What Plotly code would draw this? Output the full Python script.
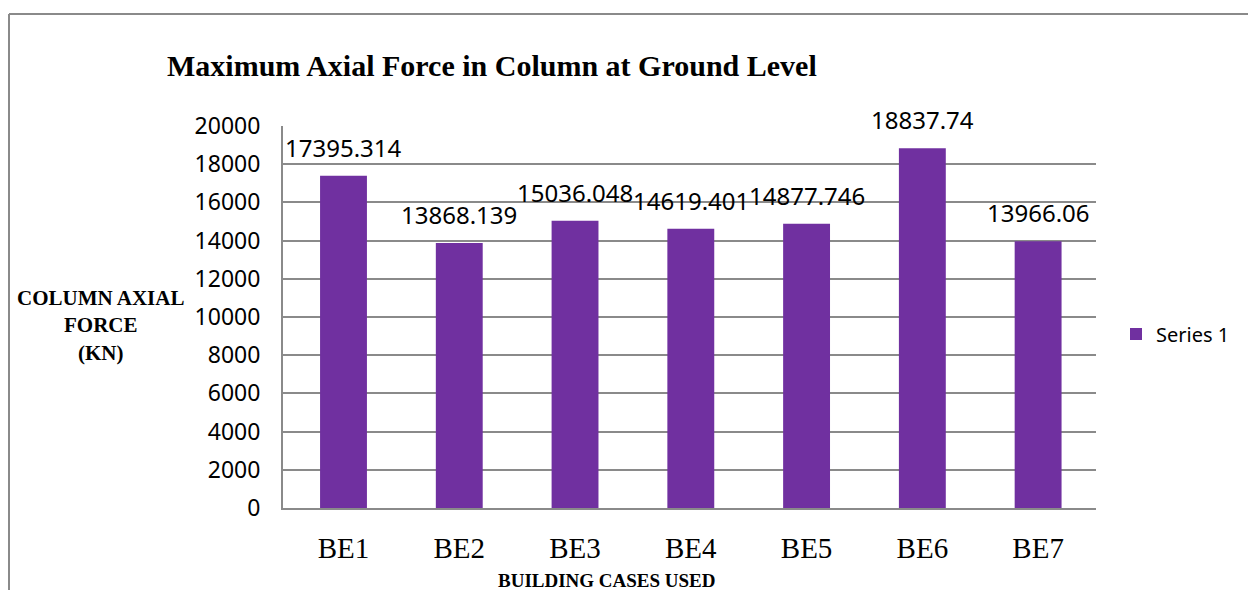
import plotly.graph_objects as go

# data
cases = ["BE1", "BE2", "BE3", "BE4", "BE5", "BE6", "BE7"]
axial_force = [17395.314, 13868.139, 15036.048, 14619.401, 14877.746, 18837.74, 13966.06]
force_labels = ["17395.314", "13868.139", "15036.048", "14619.401", "14877.746", "18837.74", "13966.06"]
y_ticks = [0, 2000, 4000, 6000, 8000, 10000, 12000, 14000, 16000, 18000, 20000]

PURPLE = "#7030A0"
GRID = "#8a8a8a"
SANS = "Noto Sans, Open Sans, sans-serif"
SERIF = "Liberation Serif, Times New Roman, serif"

# plot-area in pixels: x 283..1096, y 126..508
W, H = 1248, 590
L, R, T, B = 283, W - 1096, 126, H - 508
PW, PH = W - L - R, H - T - B


def px_x(p):
    return (p - L) / PW


def px_y(p):
    return (H - B - p) / PH


fig = go.Figure()
fig.add_trace(go.Bar(
    x=cases, y=axial_force, name="Series 1",
    marker=dict(color=PURPLE, line=dict(width=0)),
))

# value labels above bars
for c, v, t in zip(cases, axial_force, force_labels):
    fig.add_annotation(x=c, y=v, text=t, showarrow=False, yanchor="bottom",
                       yshift=10, font=dict(family=SANS, size=24, color="#000"))

# title
fig.add_annotation(xref="paper", yref="paper", x=px_x(165), y=px_y(65),
                   xanchor="left", yanchor="middle", showarrow=False,
                   text="<b>Maximum Axial Force in Column at Ground Level</b>",
                   font=dict(family=SERIF, size=30, color="#000"))
# y axis title
fig.add_annotation(xref="paper", yref="paper", x=px_x(100), y=px_y(325),
                   xanchor="center", yanchor="middle", showarrow=False, align="center",
                   text="<b>COLUMN AXIAL<br>FORCE<br>(KN)</b>",
                   font=dict(family=SERIF, size=21, color="#000"))
# x axis title
fig.add_annotation(xref="paper", yref="paper", x=px_x(607), y=px_y(580),
                   xanchor="center", yanchor="middle", showarrow=False,
                   text="<b>BUILDING CASES USED</b>",
                   font=dict(family=SERIF, size=19, color="#000"))

# outer chart border (left and top edges visible)
fig.add_shape(type="line", xref="paper", yref="paper",
              x0=px_x(9), y0=px_y(600), x1=px_x(9), y1=px_y(14),
              line=dict(color="#8a8a8a", width=2))
fig.add_shape(type="line", xref="paper", yref="paper",
              x0=px_x(9), y0=px_y(14), x1=px_x(1260), y1=px_y(14),
              line=dict(color="#8a8a8a", width=2))

fig.update_layout(
    width=W, height=H, autosize=False,
    margin=dict(l=L, r=R, t=T, b=B),
    paper_bgcolor="white", plot_bgcolor="white",
    bargap=0.595,
    showlegend=True,
    legend=dict(x=px_x(1116), y=px_y(334), xanchor="left", yanchor="middle",
                font=dict(family=SANS, size=20, color="#000"),
                itemwidth=30, bgcolor="rgba(0,0,0,0)"),
    xaxis=dict(
        showgrid=False, showline=True, linecolor=GRID, linewidth=2,
        ticks="outside", ticklen=13, tickcolor="rgba(0,0,0,0)",
        tickfont=dict(family=SERIF, size=29, color="#000"),
    ),
    yaxis=dict(
        range=[0, 20000], tickvals=y_ticks, tickformat="d",
        showgrid=True, gridcolor=GRID, gridwidth=2,
        showline=True, linecolor=GRID, linewidth=2,
        zeroline=False,
        ticks="outside", ticklen=16, tickcolor="rgba(0,0,0,0)",
        tickfont=dict(family=SANS, size=23, color="#000"),
    ),
)

# drop the default page margin / scrollbars so the figure fills the window
fig.write_html(
    "out.html",
    config={"responsive": False, "displayModeBar": False},
    post_script="document.body.style.margin='0';document.body.style.overflow='hidden';",
)
